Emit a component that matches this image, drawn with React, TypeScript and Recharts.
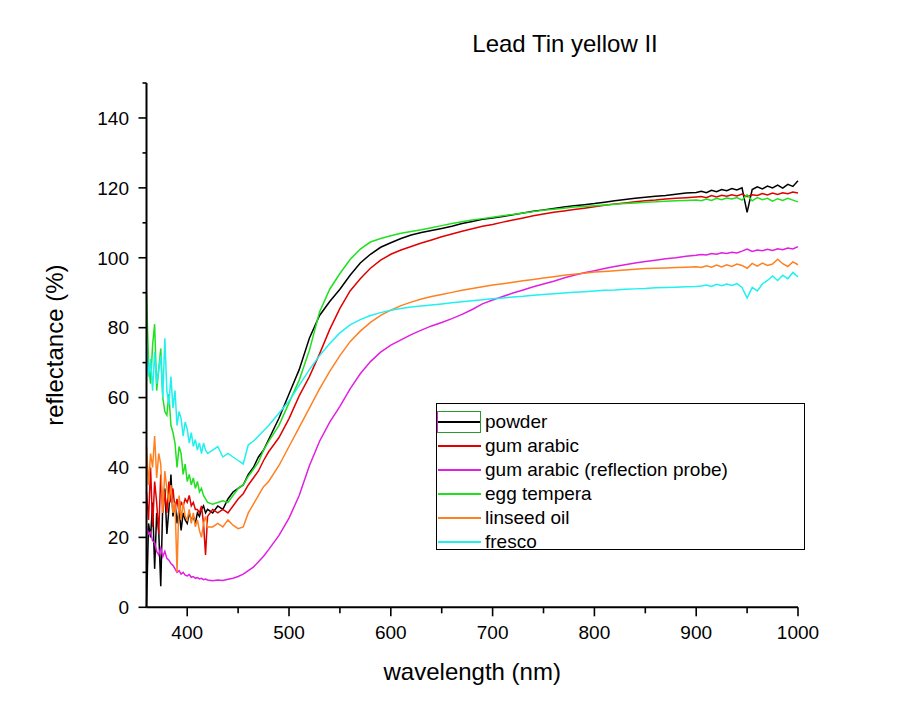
import { LineChart, Line, XAxis, YAxis, Legend } from 'recharts';

// wavelength grid (nm) shared by all spectra
const wavelengths = [
  360, 362, 364, 366, 368, 370, 372, 374, 376, 378, 380, 382, 384, 386, 388, 390, 392, 394, 396, 398,
  400, 402, 404, 406, 408, 410, 412, 414, 416, 418, 420,
  425, 430, 435, 440, 445, 450, 455, 460, 465, 470, 475, 480,
  490, 500, 510, 520, 530, 540, 550, 560, 570, 580, 590, 600, 610, 620, 630, 640, 650, 660, 670, 680,
  690, 700, 710, 720, 730, 740, 750, 760, 770, 780, 790, 800, 810, 820, 830, 840, 850, 860, 870, 880,
  890, 900,
  905, 910, 915, 920, 925, 930, 935, 940, 945, 950, 955, 960, 965, 970, 975, 980, 985, 990, 995, 1000,
];

const powder = [
  0, 24, 20, 30, 11, 27, 22, 6, 30, 34, 21, 28, 38, 26, 30, 24, 28, 22, 27, 25,
  24, 27, 25, 26, 24, 27, 26, 28, 29, 27, 28,
  27, 29, 28, 31, 33, 34, 35, 38, 40, 43, 45, 48,
  54, 61, 68, 77, 83.5, 87.5, 91, 95, 98.5, 101, 103, 104.3, 105.5, 106.5, 107.2, 107.8, 108.4, 109, 109.8, 110.4,
  111, 111.4, 111.8, 112.3, 112.8, 113.3, 113.7, 114.1, 114.5, 114.9, 115.2, 115.5, 115.9, 116.3, 116.7, 117, 117.3, 117.6, 117.8, 118.2,
  118.5, 118.7,
  119, 118.6, 119.3, 118.9, 119.5, 119.2, 119.8, 119.4, 120, 113, 119.5, 120.3, 119.7, 120.5, 120, 120.8, 119.9, 121, 120.4, 122,
];

const gumArabic = [
  33, 25, 40, 23, 36, 30, 21, 38, 27, 33, 27, 36, 30, 34, 28, 31, 27, 30, 29, 31,
  30, 32, 29, 30, 28, 28, 27, 29, 24, 15, 26,
  28, 27, 28, 27, 29, 31, 32.5, 35, 37, 39, 42, 44.5,
  48.5, 54, 60.5, 66, 72.5, 79.5, 85.5, 90.5, 94, 97, 99.3, 101, 102.2, 103.2, 104.2, 105.1, 106, 106.8, 107.6, 108.3,
  109, 109.5, 110.2, 110.8, 111.4, 112, 112.5, 113, 113.4, 113.8, 114.2, 114.6, 115, 115.4, 115.7, 116, 116.3, 116.5, 116.8, 117,
  117.2, 117.4,
  117.5, 117.2, 117.8, 117.4, 117.9, 117.6, 118, 117.7, 118.2, 117.5, 118, 117.8, 118.4, 118, 118.5, 118.1, 118.6, 118.3, 118.8, 118.5,
];

const gumArabicProbe = [
  23, 21, 21.5, 19, 18.5, 16, 15, 17, 14.5, 16, 14, 13.5, 12.5, 12, 11, 10, 10.5, 9.5, 10, 9.2,
  9, 9.4, 8.6, 8.8, 8.3, 8.5, 8.1, 8.3, 7.9, 8.1, 7.8,
  7.6, 7.8, 7.7, 8, 8.3, 8.8, 9.5, 10.5, 11.5, 13, 14.6, 16.5,
  20.5, 25.5, 32, 40.5, 47.5, 53, 57.5, 62.5, 66.8, 70.3, 73, 75, 76.5, 78, 79.3, 80.5, 81.5, 82.6, 83.8, 85.2,
  86.8, 87.9, 88.9, 89.9, 90.8, 91.7, 92.5, 93.3, 94.2, 95, 95.7, 96.3, 96.9, 97.5, 98, 98.5, 98.9, 99.3, 99.7, 100,
  100.4, 100.7,
  100.9, 100.8, 101.2, 101, 101.4, 101.2, 101.6, 101.4, 101.9, 102.5, 101.8, 102.2, 102, 102.4, 102.1, 102.6, 102.3, 102.8, 102.5, 103.2,
];

const eggTempera = [
  90, 70, 64, 75, 81, 62, 68, 74, 60, 56, 55, 61, 52, 50, 47, 40, 46, 44, 38, 41,
  36, 38, 35, 37, 34, 36, 33, 34, 32, 31, 30,
  29.5, 30, 30.5, 30, 32, 34, 35, 37.5, 39.5, 41.5, 45, 47.5,
  52, 58.5, 65, 73.5, 84.5, 91, 95.5, 99.5, 102.5, 104.5, 105.5, 106.3, 107, 107.5, 108, 108.6, 109.2, 109.8, 110.3, 110.8,
  111.2, 111.6, 112, 112.4, 112.8, 113.2, 113.6, 113.9, 114.2, 114.5, 114.7, 114.9, 115.1, 115.3, 115.5, 115.7, 115.9, 116, 116.2, 116.3,
  116.4, 116.5,
  116.3, 116.8, 116.4, 117, 116.6, 117.1, 116.8, 117.2, 116.5, 118, 116.3, 117.2, 116.6, 117, 116.2, 116.9, 116.4, 117, 116.5, 116,
];

const linseedOil = [
  46, 35, 44, 40, 49, 37, 44, 41, 27, 39, 34, 30, 35, 27, 30, 10, 32, 25, 30, 26,
  25, 28, 24, 27, 23, 25, 22, 20, 24, 26, 23,
  23, 24, 23, 25, 23.5, 22.5, 23, 27, 29.5, 32, 34.5, 36,
  40.5, 46, 51.5, 57, 62.5, 67.5, 72, 76, 79, 81.5, 83.5, 85, 86.3, 87.3, 88.2, 88.9, 89.5, 90.1, 90.7, 91.2,
  91.7, 92.2, 92.6, 93, 93.4, 93.8, 94.2, 94.6, 95, 95.3, 95.6, 95.9, 96.1, 96.3, 96.5, 96.7, 96.9, 97, 97.1, 97.2,
  97.3, 97.4,
  97.2, 97.7, 97.3, 97.9, 97.4, 98, 97.5, 98.2, 97.8, 97, 98.4, 97.6, 98.5, 97.8, 98.2, 99.6, 98.3, 97.5, 98.8, 98,
];

const fresco = [
  76, 66, 71, 62, 73, 64, 68, 72, 60, 77, 62, 58, 66, 57, 62, 52, 56, 54, 49, 53,
  51, 47, 50, 46, 48, 45, 47, 44, 47, 45, 44,
  45, 46, 43, 44, 43, 42, 41, 46.5, 47.5, 49, 50.5, 52,
  55.5, 59, 63.5, 68, 72, 75.5, 78.5, 80.8, 82.3, 83.5, 84.3, 85, 85.5, 85.9, 86.2, 86.5, 86.8, 87.1, 87.4, 87.7,
  88, 88.3, 88.5, 88.8, 89, 89.3, 89.5, 89.7, 89.9, 90.1, 90.3, 90.5, 90.7, 90.8, 91, 91.1, 91.2, 91.4, 91.5, 91.6,
  91.7, 91.8,
  91.9, 92.2, 91.8, 92.4, 92, 92.5, 92.1, 92.6, 91.5, 88.5, 91.5, 90.5, 92.5, 93.5, 94.8, 93.5, 95, 94, 95.8, 94.5,
];

const xTicks = [400, 450, 500, 550, 600, 650, 700, 750, 800, 850, 900, 950, 1000];
const yTicks = [0, 10, 20, 30, 40, 50, 60, 70, 80, 90, 100, 110, 120, 130, 140, 150];

const series = [
  { key: 'powder', name: 'powder', color: '#000000', values: powder },
  { key: 'gumArabic', name: 'gum arabic', color: '#e00000', values: gumArabic },
  { key: 'gumArabicProbe', name: 'gum arabic (reflection probe)', color: '#e020e0', values: gumArabicProbe },
  { key: 'eggTempera', name: 'egg tempera', color: '#20e020', values: eggTempera },
  { key: 'linseedOil', name: 'linseed oil', color: '#ff8020', values: linseedOil },
  { key: 'fresco', name: 'fresco', color: '#20f0f0', values: fresco },
];

const rows = wavelengths.map((wl, i) => {
  const row: Record<string, number> = { wl };
  series.forEach((s) => {
    row[s.key] = s.values[i];
  });
  return row;
});

const FONT = '"Liberation Sans", Arial, sans-serif';

function XTick(props: any) {
  const { x, y, payload } = props;
  const major = payload.value % 100 === 0;
  return (
    <g>
      <line x1={x} y1={y} x2={x} y2={y + (major ? 9 : 6)} stroke="#000" strokeWidth={1.6} />
      {major && (
        <text x={x} y={y + 32} textAnchor="middle" fontSize={19} fontFamily={FONT} fill="#000">
          {payload.value}
        </text>
      )}
    </g>
  );
}

function YTick(props: any) {
  const { x, y, payload } = props;
  const major = payload.value % 20 === 0;
  return (
    <g>
      <line x1={x} y1={y} x2={x - (major ? 8 : 4)} y2={y} stroke="#000" strokeWidth={1.6} />
      {major && (
        <text x={x - 17.5} y={y + 6.8} textAnchor="end" fontSize={19} fontFamily={FONT} fill="#000">
          {payload.value}
        </text>
      )}
    </g>
  );
}

function LegendBox() {
  return (
    <div
      style={{
        position: 'relative',
        width: 369,
        height: 147,
        boxSizing: 'border-box',
        border: '1px solid #000',
        background: '#fff',
        fontFamily: FONT,
        fontSize: 19,
      }}
    >
      {series.map((s, i) => (
        <div key={s.key} style={{ position: 'absolute', left: 0, top: 6 + i * 24, height: 24, width: '100%' }}>
          <div style={{ position: 'absolute', left: 1, top: 11, width: 43, height: 2, background: s.color }} />
          {i === 0 && (
            <div
              style={{
                position: 'absolute',
                left: 0,
                top: 1,
                width: 44,
                height: 22,
                boxSizing: 'border-box',
                border: '1px solid #2a9a2a',
                borderLeft: '1px solid #e020e0',
              }}
            />
          )}
          <div style={{ position: 'absolute', left: 48, top: 0, lineHeight: '24px', whiteSpace: 'nowrap', color: '#000' }}>
            {s.name}
          </div>
        </div>
      ))}
    </div>
  );
}

export default function App() {
  return (
    <div style={{ position: 'relative', width: 910, height: 716, background: '#fff' }}>
      <div
        style={{
          position: 'absolute',
          left: 357,
          top: 24,
          width: 400,
          textAlign: 'center',
          fontFamily: FONT,
          fontSize: 24,
          lineHeight: '24px',
          color: '#000',
          zIndex: 2,
        }}
      >
        Lead Tin yellow II
      </div>
      <LineChart width={910} height={716} data={rows} margin={{ top: 75, right: 120, left: 0, bottom: 76.7 }}>
        <XAxis
          dataKey="wl"
          type="number"
          domain={[360, 1000]}
          ticks={xTicks}
          interval={0}
          height={40}
          tickSize={0}
          tickMargin={0}
          tick={<XTick />}
          axisLine={{ stroke: '#000', strokeWidth: 2 }}
          tickLine={false}
          label={{
            value: 'wavelength (nm)',
            position: 'bottom',
            offset: 16,
            style: { fontSize: 24, fontFamily: FONT, fill: '#000' },
          }}
        />
        <YAxis
          type="number"
          domain={[0, 150]}
          ticks={yTicks}
          interval={0}
          width={138.5}
          tickSize={0}
          tickMargin={0}
          tick={<YTick />}
          axisLine={{ stroke: '#000', strokeWidth: 2 }}
          tickLine={false}
          label={{
            value: 'reflectance (%)',
            angle: -90,
            position: 'insideLeft',
            offset: 46,
            style: { textAnchor: 'middle', fontSize: 24, fontFamily: FONT, fill: '#000' },
          }}
        />
        {series.map((s) => (
          <Line
            key={s.key}
            dataKey={s.key}
            name={s.name}
            stroke={s.color}
            strokeWidth={1.5}
            dot={false}
            type="linear"
            isAnimationActive={false}
          />
        ))}
        <Legend
          layout="vertical"
          align="center"
          verticalAlign="middle"
          width={369}
          height={147}
          wrapperStyle={{ left: 428, top: 395, width: 369, height: 147 }}
          content={() => <LegendBox />}
        />
      </LineChart>
    </div>
  );
}
